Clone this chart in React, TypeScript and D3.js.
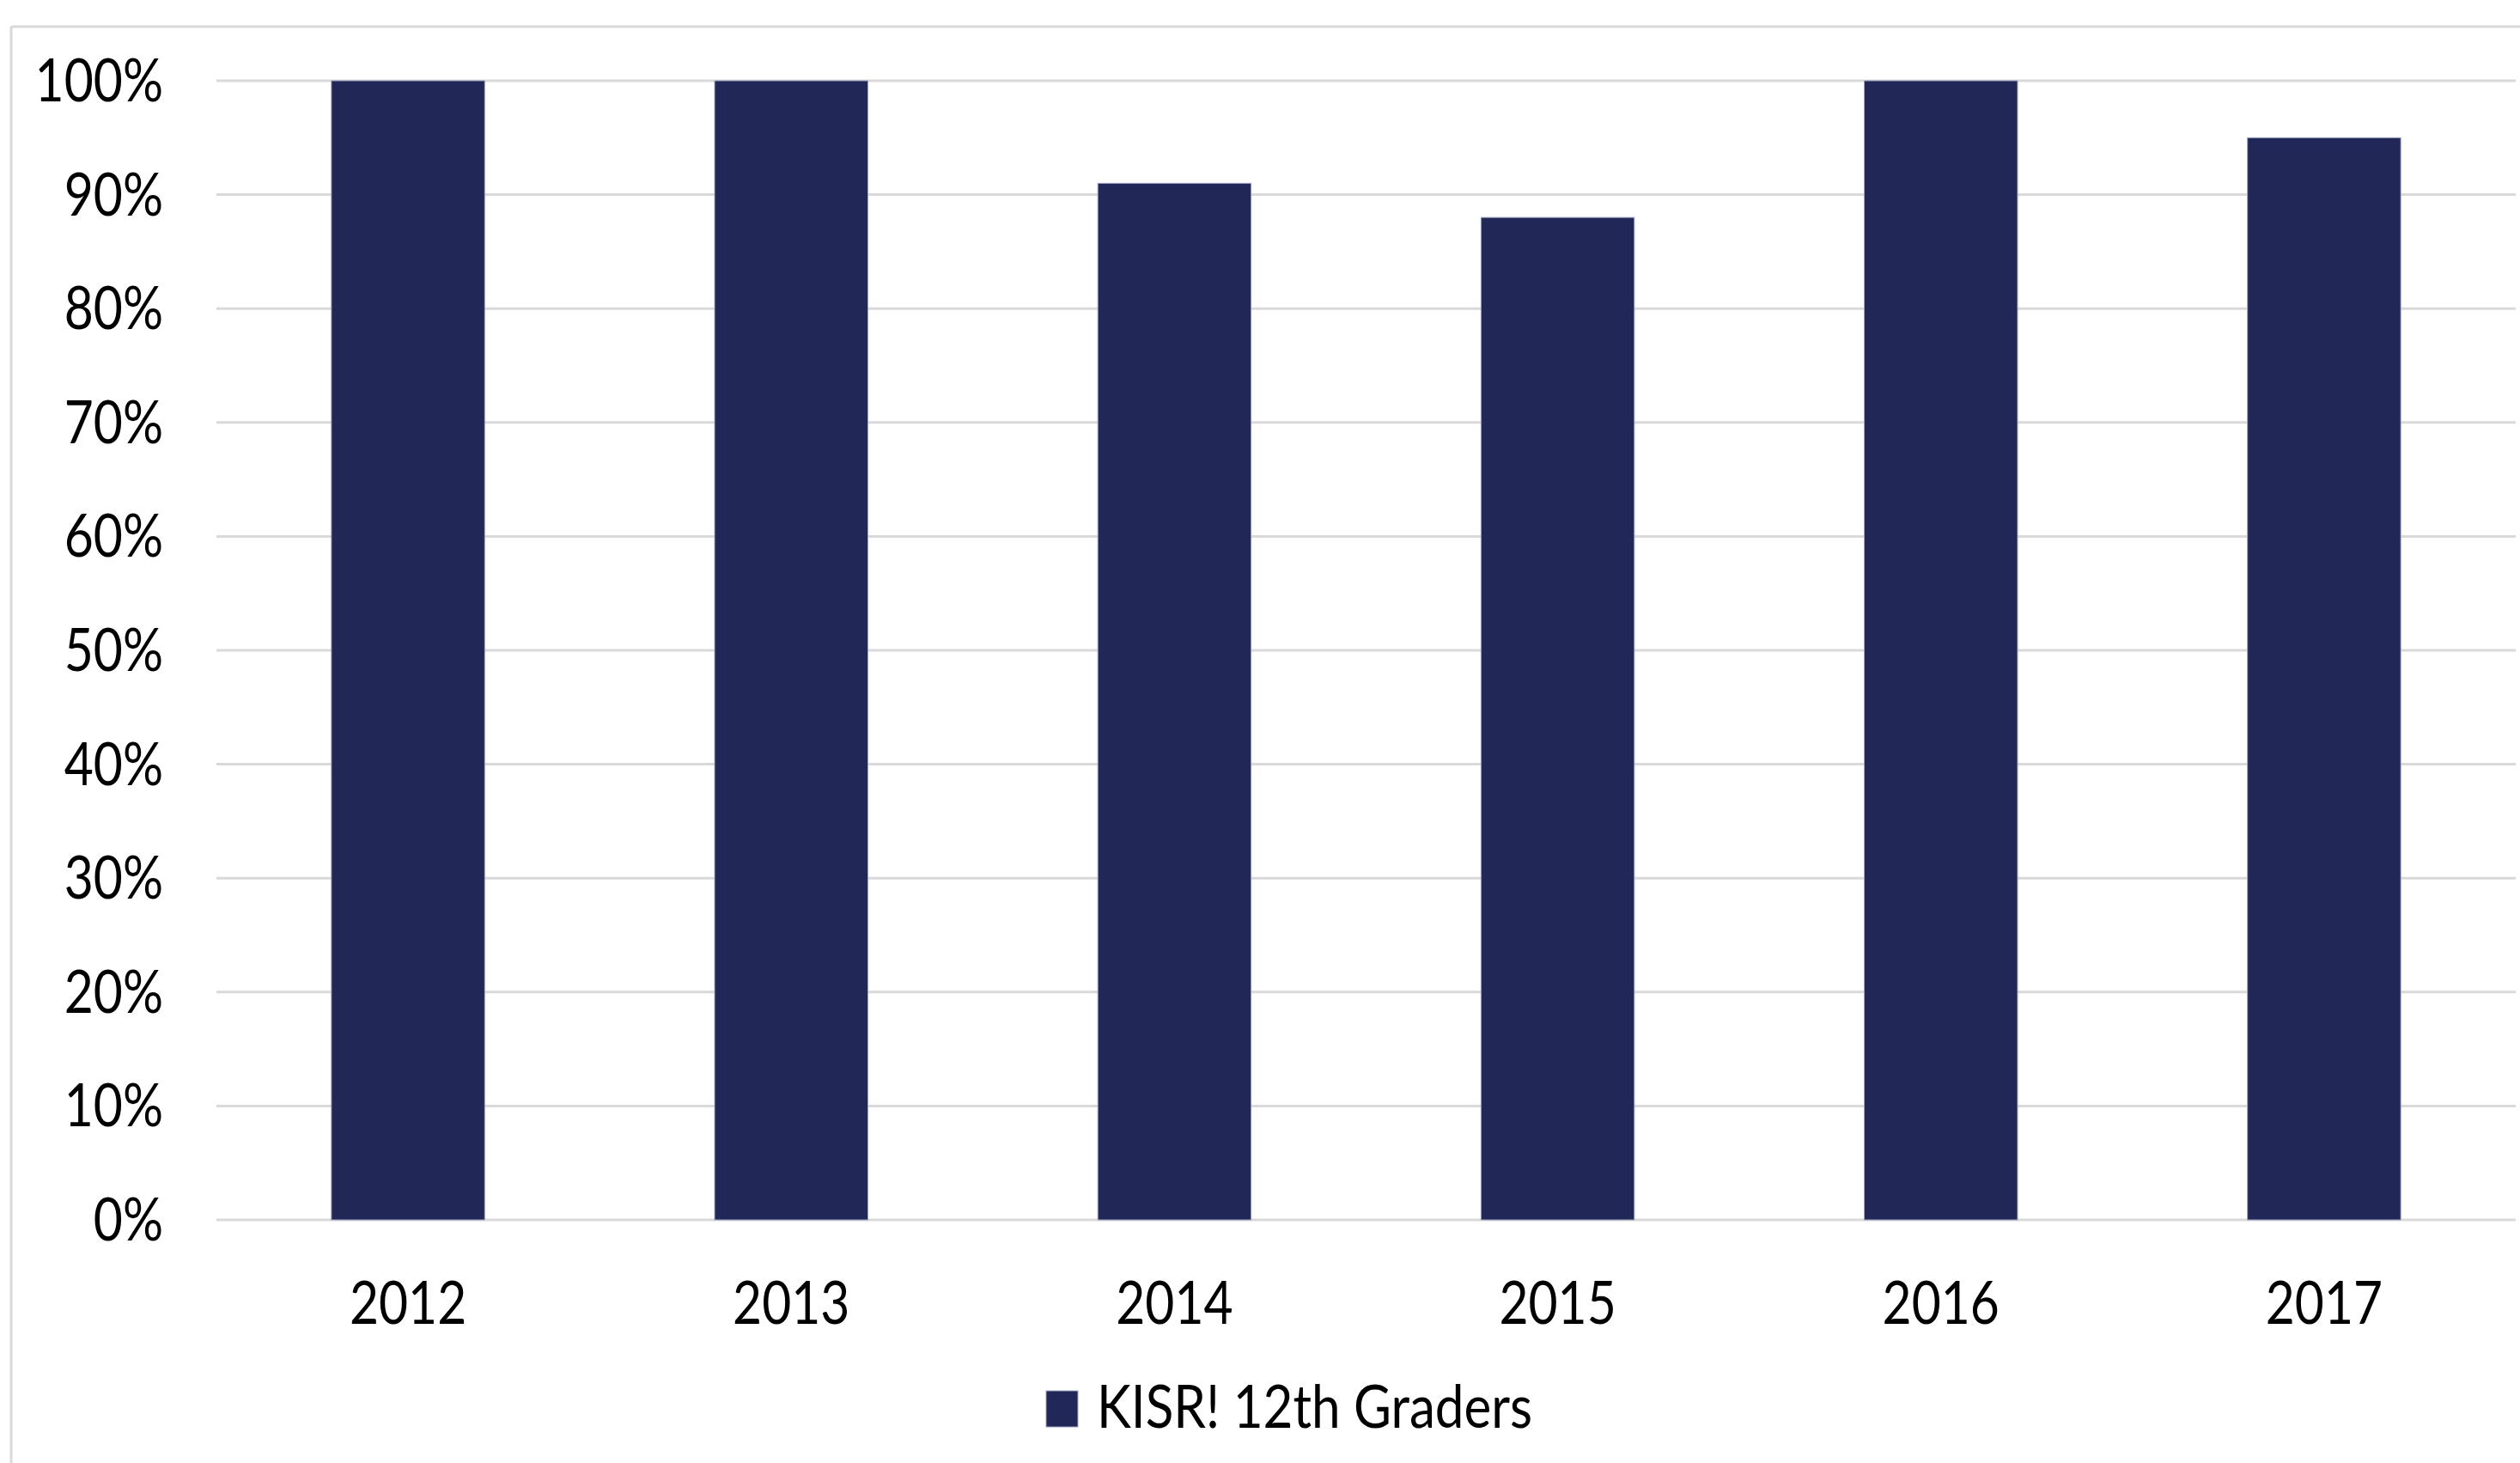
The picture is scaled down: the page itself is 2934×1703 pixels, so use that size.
import React from "react";
import * as d3 from "d3";

const categories = ["2012", "2013", "2014", "2015", "2016", "2017"];
const values = [1.0, 1.0, 0.91, 0.88, 1.0, 0.95];
const yTicks = [0, 0.1, 0.2, 0.3, 0.4, 0.5, 0.6, 0.7, 0.8, 0.9, 1.0];
const seriesName = "KISR! 12th Graders";

const W = 2934;
const H = 1703;
const plot = { left: 252, right: 2929, top: 94, bottom: 1420 };
const BAR = "#212857";
const GRID = "#d9d9d9";
const FONT = "Lato, 'Noto Sans', sans-serif";
const FS = 70;
const SX = 0.84;
const SX_LEGEND = 0.86;

export default function App() {
  const x = d3
    .scaleBand<string>()
    .domain(categories)
    .range([plot.left, plot.right])
    .paddingInner(0.6)
    .paddingOuter(0.3);
  const y = d3.scaleLinear().domain([0, 1]).range([plot.bottom, plot.top]);
  const fmt = d3.format(".0%");

  return (
    <div style={{ position: "fixed", left: 0, top: 0 }}>
      <svg width={W} height={H} style={{ display: "block", background: "#fff" }}>
        <rect x={0} y={0} width={W} height={H} fill="#fff" />
        {/* outer chart border (cropped on right and bottom) */}
        <line x1={13} y1={31} x2={W} y2={31} stroke={GRID} strokeWidth={3} />
        <line x1={13} y1={31} x2={13} y2={H} stroke={GRID} strokeWidth={3} />
        {yTicks.map((t) => (
          <line
            key={"g" + t}
            x1={plot.left}
            x2={plot.right}
            y1={y(t)}
            y2={y(t)}
            stroke={GRID}
            strokeWidth={3}
          />
        ))}
        {categories.map((c, i) => (
          <rect
            key={c}
            x={x(c)}
            y={y(values[i])}
            width={x.bandwidth()}
            height={y(0) - y(values[i])}
            fill={BAR}
            stroke="#9ea3c0"
            strokeWidth={1}
          />
        ))}
        {yTicks.map((t) => (
          <text
            key={"t" + t}
            transform={`translate(190,${y(t) + 24}) scale(${SX},1)`}
            textAnchor="end"
            fontFamily={FONT}
            fontSize={FS}
            fill="#000"
          >
            {fmt(t)}
          </text>
        ))}
        {categories.map((c) => (
          <text
            key={"x" + c}
            transform={`translate(${(x(c) as number) + x.bandwidth() / 2},1541) scale(${SX},1)`}
            textAnchor="middle"
            fontFamily={FONT}
            fontSize={FS}
            fill="#000"
          >
            {c}
          </text>
        ))}
        <g>
          <rect x={1218} y={1619} width={37} height={42} fill={BAR} stroke="#9ea3c0" strokeWidth={1} />
          <text
            transform={`translate(1277,1662) scale(${SX_LEGEND},1)`}
            fontFamily={FONT}
            fontSize={FS}
            fill="#000"
          >
            {seriesName}
          </text>
        </g>
      </svg>
    </div>
  );
}
